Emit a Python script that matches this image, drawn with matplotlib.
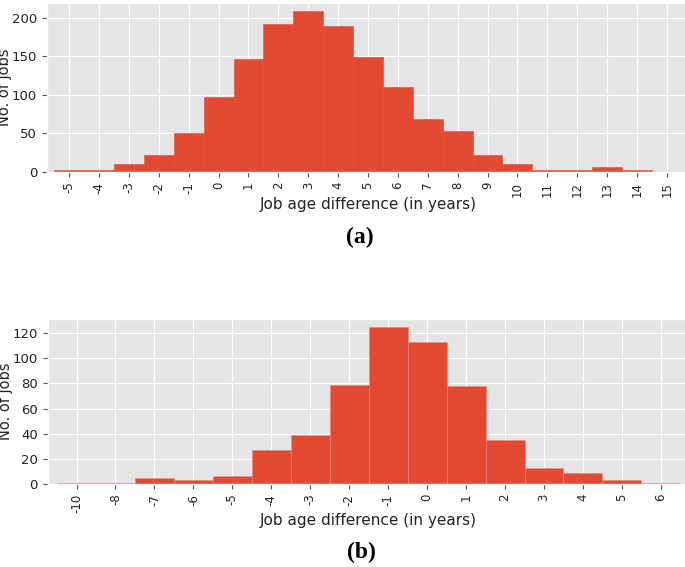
import numpy as np
import matplotlib
matplotlib.use('Agg')
import matplotlib.pyplot as plt

# (a) job age difference counts
labels_a = ['-5', '-4', '-3', '-2', '-1', '0', '1', '2', '3', '4', '5',
            '6', '7', '8', '9', '10', '11', '12', '13', '14', '15']
counts_a = [2, 3, 11, 22, 50, 97, 147, 192, 209, 189, 149,
            110, 69, 53, 22, 11, 3, 3, 6, 2, 0.5]

# (b) job age difference counts
labels_b = ['-10', '-8', '-7', '-6', '-5', '-4', '-3', '-2', '-1', '0',
            '1', '2', '3', '4', '5', '6']
counts_b = [1, 1, 5, 3, 6, 27, 39, 79, 125, 113, 78, 35, 13, 9, 3, 0.5]

plt.style.use('ggplot')
plt.rcParams['font.family'] = 'DejaVu Sans'

W, H = 685, 567
fig = plt.figure(figsize=(W / 100, H / 100), dpi=100)

ax1 = fig.add_axes([47 / W, 1 - 172 / H, 642 / W, 169 / H])
ax2 = fig.add_axes([47.7 / W, 1 - 484 / H, 642 / W, 165 / H])


def draw(ax, labels, counts, yticks, edge):
    ax.bar(labels, counts, width=1.0, color='#E24A33',
           edgecolor=edge, linewidth=0.4)
    ax.set_xlim(-0.74, len(labels) - 0.5 + 0.24)
    ax.set_ylim(0, max(counts) * 1.05)
    ax.set_yticks(yticks)
    ax.tick_params(axis='x', labelrotation=90, labelsize=8.5,
                   labelcolor='#222222')
    ax.tick_params(axis='y', labelsize=9.5, labelcolor='#222222')
    ax.set_xlabel('Job age difference (in years)', fontsize=11,
                  color='#222222', labelpad=0)
    ax.set_ylabel('No. of jobs', fontsize=10.5, color='#222222')
    ax.yaxis.set_label_coords(-0.054, 0.5)


draw(ax1, labels_a, counts_a, [0, 50, 100, 150, 200], '#E24A33')
draw(ax2, labels_b, counts_b, [0, 20, 40, 60, 80, 100, 120], '#EC8A7C')

fig.text(360 / W, 1 - 237 / H, '(a)', ha='center', va='center',
         fontsize=17, fontweight='bold', family='Liberation Serif')
fig.text(361 / W, 1 - 552 / H, '(b)', ha='center', va='center',
         fontsize=17, fontweight='bold', family='Liberation Serif')

fig.savefig('out.png', dpi=100)
